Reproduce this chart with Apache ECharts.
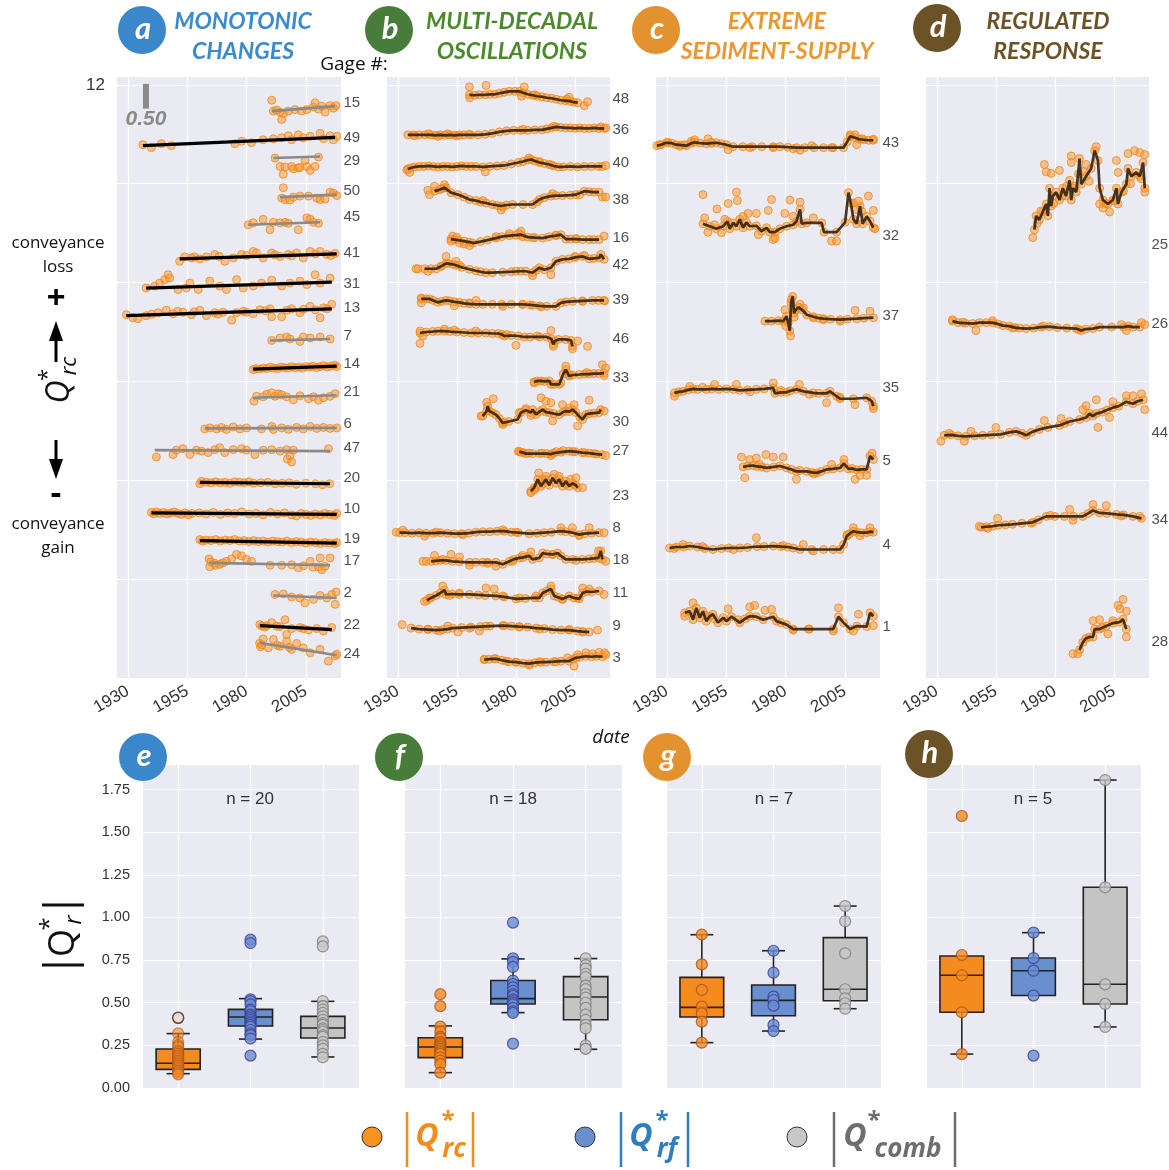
<!DOCTYPE html>
<html><head><meta charset="utf-8">
<script src="https://cdn.jsdelivr.net/npm/echarts@6/dist/echarts.min.js"></script>
<style>html,body{margin:0;padding:0;background:#fff}#c{width:1169px;height:1170px}</style>
</head><body><div id="c"></div><script>
// ---------- tick labels ----------
const yearTicks = [1930, 1955, 1980, 2005];
const X0 = 1925.4, X1 = 2019.8;

// ---------- panel a : monotonic changes ----------
const gagesA = ['15','49','29','50','45','41','31','13','7','14','21','6','47','20','10','19','17','2','22','24'];
const labelA = [11.64,10.93,10.47,9.86,9.34,8.61,7.98,7.48,6.93,6.36,5.78,5.15,4.66,4.04,3.43,2.82,2.38,1.73,1.08,0.48];
// [startYear, startValue, endYear, endValue, significant]
const trendA = [
 [1990.6,11.47,2017.3,11.57,0],[1936.3,10.77,2017.3,10.94,1],[1991.3,10.52,2011.0,10.55,0],[1994.1,9.73,2018.0,9.78,0],
 [1980.7,9.17,2011.0,9.22,0],[1951.8,8.48,2018.0,8.58,1],[1937.7,7.89,2015.9,8.01,1],[1929.3,7.33,2015.9,7.47,1],
 [1989.9,6.83,2015.2,6.86,0],[1982.8,6.25,2018.0,6.31,1],[1982.8,5.67,2018.0,5.72,0],[1962.4,5.05,2018.0,5.06,0],
 [1941.3,4.61,2015.2,4.59,0],[1960.3,3.96,2015.2,3.93,1],[1939.9,3.34,2018.0,3.31,1],[1960.3,2.78,2018.0,2.73,1],
 [1964.2,2.33,2015.2,2.28,0],[1991.3,1.67,2018.0,1.62,0],[1985.6,1.06,2015.9,0.98,1],[1985.6,0.71,2018.0,0.46,0]];
const pA15 = [[1990.6,11.69],[1991.3,11.47],[1992.7,11.49],[1994.1,11.45],[1994.8,11.30],[1995.5,11.42],[1997.6,11.47],[2000.4,11.50],[2003.2,11.47],[2005.4,11.50],[2008.2,11.55],[2008.9,11.64],[2010.3,11.51],[2011.7,11.57],[2013.1,11.45],[2015.2,11.58],[2016.6,11.53],[2017.7,11.58]];
const pA49 = [[1936.3,10.79],[1939.9,10.73],[1944.1,10.81],[1948.3,10.77],[1975.1,10.81],[1977.9,10.86],[1982.1,10.83],[1987.0,10.89],[1991.3,10.91],[1994.8,10.93],[1997.6,10.97],[1999.0,10.89],[2001.8,10.99],[2003.9,10.93],[2006.8,10.96],[2011.0,11.02],[2012.4,10.91],[2015.2,10.97],[2016.6,10.89],[2018.0,10.96]];
const pA29 = [[1992.0,10.52],[1994.1,10.35],[1995.5,10.19],[1996.2,10.34],[1999.0,10.35],[1999.7,10.30],[2001.8,10.32],[2002.5,10.33],[2004.6,10.47],[2005.4,10.35],[2006.8,10.27],[2008.9,10.35],[2010.3,10.54]];
const pA50 = [[1994.8,9.71],[1995.5,9.92],[1996.2,9.68],[1998.3,9.67],[1999.7,9.73],[2002.5,9.75],[2006.1,9.75],[2009.6,9.71],[2011.0,9.68],[2013.1,9.69],[2015.2,9.83],[2016.6,9.81],[2018.0,9.76]];
const pA45 = [[1980.7,9.17],[1982.8,9.21],[1987.0,9.28],[1989.9,9.07],[1991.3,9.22],[1994.1,9.21],[1996.2,9.22],[1997.6,9.20],[2001.8,9.07],[2005.4,9.31],[2006.8,9.28],[2008.2,9.22],[2010.3,9.20]];
const pA41 = [[1951.8,8.43],[1953.9,8.52],[1956.8,8.50],[1958.0,8.52],[1960.3,8.48],[1963.1,8.52],[1966.6,8.57],[1968.5,8.53],[1970.8,8.43],[1974.4,8.50],[1977.9,8.57],[1980.0,8.55],[1982.8,8.63],[1984.2,8.60],[1987.0,8.50],[1990.6,8.60],[1992.0,8.56],[1994.1,8.53],[1997.6,8.57],[1999.0,8.54],[2001.1,8.60],[2003.9,8.50],[2006.8,8.63],[2009.0,8.58],[2011.0,8.63],[2013.8,8.57],[2015.5,8.55],[2017.3,8.59]];
const pA31 = [[1937.7,7.89],[1941.3,7.93],[1943.4,7.99],[1945.5,8.06],[1946.9,8.16],[1947.6,8.09],[1951.1,7.86],[1954.6,7.89],[1956.1,7.99],[1959.6,7.86],[1964.5,8.03],[1968.7,7.93],[1971.5,7.86],[1975.8,8.06],[1978.6,7.89],[1982.8,7.93],[1986.3,7.99],[1990.6,8.05],[1994.8,7.93],[1998.3,7.99],[2002.5,8.03],[2005.4,7.96],[2008.9,8.16],[2011.0,7.99],[2015.2,8.09]];
const pA13 = [[1929.3,7.35],[1932.1,7.29],[1934.2,7.27],[1937.7,7.33],[1940.0,7.36],[1942.7,7.39],[1946.2,7.44],[1949.0,7.37],[1951.0,7.42],[1953.2,7.40],[1956.8,7.35],[1958.0,7.41],[1960.3,7.44],[1963.1,7.33],[1966.6,7.39],[1968.0,7.36],[1970.1,7.40],[1973.7,7.24],[1975.8,7.39],[1978.6,7.42],[1980.0,7.40],[1982.8,7.37],[1985.6,7.45],[1988.0,7.43],[1989.9,7.47],[1990.6,7.31],[1994.8,7.31],[1997.0,7.44],[1999.0,7.47],[2002.5,7.39],[2004.0,7.46],[2006.8,7.52],[2009.0,7.45],[2011.0,7.29],[2012.4,7.49],[2014.0,7.47],[2015.9,7.56]];
const pA7 = [[1990.6,6.83],[1994.1,6.88],[1996.9,6.90],[1998.3,6.86],[2002.5,6.81],[2003.9,6.90],[2006.8,6.88],[2011.0,6.90],[2015.2,6.86]];
const pA14 = [[1982.8,6.24],[1984.0,6.26],[1985.5,6.25],[1987.0,6.27],[1988.5,6.26],[1990.0,6.29],[1991.5,6.27],[1993.0,6.26],[1994.5,6.29],[1996.0,6.28],[1997.5,6.27],[1999.0,6.30],[2000.5,6.28],[2002.0,6.29],[2003.5,6.27],[2005.0,6.30],[2006.5,6.29],[2008.0,6.31],[2009.5,6.28],[2011.0,6.30],[2012.5,6.32],[2014.0,6.29],[2015.5,6.31],[2017.0,6.33],[2018.0,6.30]];
const pA21 = [[1983.1,5.60],[1984.2,5.70],[1987.0,5.69],[1988.5,5.74],[1990.6,5.77],[1992.0,5.70],[1993.4,5.75],[1994.8,5.73],[1996.9,5.69],[1999.7,5.63],[2002.5,5.71],[2006.1,5.65],[2008.2,5.69],[2010.3,5.62],[2012.4,5.67],[2015.2,5.70],[2017.3,5.75]];
const pA6 = [[1962.4,5.04],[1964.5,5.06],[1967.3,5.04],[1969.4,5.07],[1971.5,5.03],[1974.4,5.08],[1977.2,5.04],[1980.0,5.06],[1986.3,5.04],[1990.6,5.09],[1991.3,5.03],[1994.8,5.06],[1997.6,5.03],[2001.1,5.07],[2003.9,5.04],[2006.8,5.09],[2009.6,5.05],[2012.4,5.07],[2015.2,5.05],[2018.0,5.06]];
const pA47 = [[1942.0,4.47],[1949.0,4.52],[1950.4,4.61],[1953.2,4.64],[1956.1,4.52],[1958.9,4.61],[1961.0,4.59],[1963.8,4.56],[1966.6,4.62],[1968.7,4.66],[1970.8,4.56],[1974.4,4.62],[1977.9,4.64],[1980.0,4.61],[1983.5,4.52],[1987.0,4.61],[1990.6,4.62],[1994.1,4.59],[1996.9,4.62],[1997.2,4.43],[1998.3,4.50],[1999.0,4.37],[1999.7,4.61],[2014.5,4.64]];
const pA20 = [[1960.3,3.93],[1961.0,3.98],[1963.0,3.96],[1965.0,3.95],[1967.0,3.97],[1969.0,3.95],[1971.0,3.96],[1973.0,3.94],[1975.0,3.97],[1977.0,3.96],[1979.0,3.95],[1981.0,3.97],[1983.0,3.94],[1986.0,3.95],[1989.0,3.96],[1992.0,3.93],[1995.0,3.94],[1998.0,3.95],[2001.0,3.92],[2005.0,3.94],[2009.0,3.93],[2012.0,3.91],[2015.0,3.93]];
const pA10 = [[1939.9,3.35],[1941.0,3.32],[1942.0,3.36],[1943.5,3.33],[1945.0,3.35],[1946.5,3.32],[1948.0,3.34],[1949.5,3.36],[1951.0,3.33],[1952.5,3.31],[1954.0,3.34],[1955.5,3.30],[1957.0,3.33],[1960.0,3.34],[1963.0,3.32],[1966.0,3.35],[1969.0,3.31],[1972.0,3.34],[1975.0,3.33],[1978.0,3.36],[1981.0,3.32],[1984.0,3.33],[1987.0,3.30],[1990.0,3.35],[1993.0,3.32],[1996.0,3.34],[1999.0,3.30],[2001.0,3.28],[2003.0,3.33],[2005.0,3.31],[2007.0,3.29],[2009.0,3.32],[2011.0,3.30],[2013.0,3.33],[2015.0,3.31],[2017.0,3.29],[2018.0,3.33]];
const pA19 = [[1960.3,2.80],[1961.5,2.77],[1963.0,2.79],[1965.0,2.78],[1967.0,2.80],[1969.0,2.77],[1971.0,2.79],[1973.0,2.78],[1975.0,2.80],[1977.0,2.77],[1979.0,2.78],[1981.0,2.76],[1983.0,2.78],[1985.0,2.76],[1987.0,2.77],[1989.0,2.75],[1991.0,2.77],[1993.0,2.76],[1995.0,2.75],[1997.0,2.77],[1999.0,2.74],[2001.0,2.76],[2003.0,2.75],[2005.0,2.73],[2007.0,2.75],[2009.0,2.74],[2011.0,2.72],[2013.0,2.74],[2015.0,2.73],[2017.0,2.72],[2018.0,2.74]];
const pA17 = [[1964.2,2.41],[1964.5,2.25],[1965.0,2.35],[1966.6,2.32],[1967.0,2.28],[1968.7,2.30],[1970.0,2.33],[1971.5,2.36],[1973.7,2.41],[1975.8,2.50],[1977.9,2.47],[1980.0,2.40],[1982.1,2.36],[1989.9,2.28],[1994.8,2.28],[1999.0,2.29],[2001.8,2.23],[2004.0,2.27],[2006.8,2.36],[2008.0,2.24],[2010.3,2.25],[2011.0,2.43],[2011.7,2.19],[2013.0,2.26],[2015.2,2.43]];
const pA2 = [[1992.0,1.69],[1995.5,1.70],[1999.0,1.64],[2002.5,1.62],[2004.6,1.52],[2008.2,1.59],[2011.0,1.67],[2013.8,1.62],[2015.9,1.69],[2017.3,1.49],[2017.7,1.74]];
const pA22 = [[1985.6,1.08],[1986.5,1.05],[1987.7,1.03],[1988.5,1.06],[1990.6,1.12],[1992.7,1.05],[1994.0,1.04],[1996.2,1.18],[1999.0,1.00],[2002.5,1.02],[2004.0,1.00],[2006.1,0.97],[2009.6,1.00],[2012.4,0.95],[2015.9,1.02]];
const pA24 = [[1985.5,0.70],[1985.9,0.63],[1986.5,0.67],[1987.0,0.79],[1989.2,0.61],[1991.3,0.78],[1993.0,0.66],[1994.1,0.64],[1996.9,0.88],[1996.9,0.74],[1998.0,0.62],[1999.0,0.58],[2001.1,0.70],[2003.9,0.61],[2006.8,0.51],[2011.0,0.58],[2014.5,0.34],[2017.3,0.45],[2018.0,0.48]];
const ptsA = [pA15,pA49,pA29,pA50,pA45,pA41,pA31,pA13,pA7,pA14,pA21,pA6,pA47,pA20,pA10,pA19,pA17,pA2,pA22,pA24];

// ---------- panel b : multi-decadal oscillations ----------
const gagesB = ['48','36','40','38','16','42','39','46','33','30','27','23','8','18','11','9','3'];
const labelB = [11.72,11.10,10.43,9.68,8.91,8.36,7.66,6.87,6.07,5.19,4.60,3.69,3.04,2.40,1.73,1.06,0.41];
const b48L = [[1960.3,11.80],[1962.5,11.79],[1964.5,11.80],[1967,11.80],[1969,11.81],[1971,11.81],[1973,11.83],[1975,11.85],[1977.2,11.87],[1979.5,11.87],[1981.5,11.87],[1983,11.84],[1985,11.81],[1987,11.79],[1989,11.77],[1991,11.76],[1993,11.74],[1995,11.73],[1997,11.71],[1999,11.69],[2001,11.68],[2003,11.67],[2004.5,11.65],[2006.1,11.64]];
const b48X = [[1960.3,11.96],[1960.4,11.74],[1967.3,11.99],[1983.5,11.96],[1982.3,11.77],[1988,11.80],[2002.5,11.75],[2001.5,11.71],[2008.9,11.58],[2010.3,11.66]];
const b36L = [[1934.2,10.99],[1936.5,10.99],[1939,10.99],[1941.5,10.99],[1944,10.99],[1946,10.98],[1948,10.99],[1950,10.98],[1952,10.99],[1954,10.98],[1956,10.99],[1958,10.99],[1961,10.99],[1964,10.99],[1967,11.00],[1970,11.02],[1973,11.05],[1976,11.07],[1979,11.08],[1982,11.08],[1985,11.08],[1988,11.09],[1991,11.09],[1993,11.11],[1995,11.13],[1997,11.15],[1999,11.14],[2001,11.13],[2003,11.13],[2005,11.12],[2007,11.13],[2009,11.12],[2011,11.12],[2013,11.13],[2015,11.12],[2017.3,11.12]];
const b36X = [[1937,10.97],[1943,11.01],[1947,10.96],[1951,11.01],[1955,10.97],[1960,11.00],[1996,11.16],[2016,11.15],[2018,11.13],[1983,11.10]];
const b40L = [[1934.2,10.30],[1935.5,10.32],[1937,10.34],[1939,10.35],[1941,10.35],[1943,10.36],[1945,10.35],[1947,10.34],[1949,10.35],[1951,10.35],[1953,10.34],[1955,10.35],[1957,10.36],[1959,10.35],[1961,10.35],[1963,10.35],[1966,10.34],[1969,10.35],[1972,10.36],[1975,10.37],[1978,10.40],[1981,10.43],[1983,10.45],[1985,10.48],[1986.5,10.49],[1988,10.46],[1990,10.43],[1992,10.41],[1994,10.39],[1996,10.36],[1998,10.34],[2000,10.34],[2003,10.35],[2006,10.34],[2009,10.35],[2012,10.35],[2015,10.35],[2016.5,10.35]];
const b40X = [[1933.8,10.28],[1935,10.23],[1967,10.24],[1985.5,10.52],[1990,10.45],[1995,10.38],[2018,10.37]];
const b38L = [[1945.5,9.85],[1947.6,9.88],[1949.7,9.92],[1950.4,9.92],[1952.5,9.82],[1955.4,9.78],[1958,9.73],[1960.3,9.68],[1963,9.66],[1965,9.63],[1967.3,9.61],[1970,9.58],[1973.7,9.55],[1976,9.57],[1978.6,9.58],[1983,9.58],[1987,9.58],[1989.9,9.68],[1992,9.72],[1994.8,9.75],[1997,9.76],[1999.7,9.76],[2003,9.77],[2005.4,9.78],[2008.9,9.85],[2011,9.84],[2013,9.83],[2015.2,9.83]];
const b38X = [[1942.7,9.87],[1943.4,9.78],[1945.5,9.95],[1949.7,9.98],[1948.5,9.90],[1966,9.66],[1972,9.56],[1973.7,9.47],[1974.4,9.53],[1989,9.63],[1995.5,9.80],[2007,9.78],[2016.6,9.73],[2018,9.73]];
const b16L = [[1952.5,8.88],[1954,8.87],[1955.5,8.86],[1958,8.84],[1960.3,8.82],[1961.7,8.80],[1965,8.83],[1968,8.86],[1971.5,8.90],[1974,8.93],[1977.2,8.95],[1980,8.96],[1982.1,8.97],[1982.8,8.93],[1985,8.92],[1988,8.91],[1991.3,8.90],[1994,8.93],[1996.9,8.95],[1999,8.97],[2001.1,8.88],[2003,8.88],[2005.4,8.88],[2008.2,8.87],[2011,8.87],[2013,8.87],[2015.2,8.87]];
const b16X = [[1952.5,8.84],[1953.2,8.94],[1954.9,8.92],[1956.1,8.80],[1960.3,8.75],[1958,8.78],[1971.5,8.93],[1977.2,8.99],[1982.1,9.04],[1981,9.00],[1987,8.91],[1996.9,8.96],[2005.4,8.89],[2017.3,8.94]];
const b42L = [[1941.3,8.28],[1944,8.28],[1946.2,8.28],[1948.3,8.33],[1950.4,8.39],[1951.1,8.39],[1953.2,8.37],[1954.6,8.35],[1957,8.31],[1960.3,8.27],[1963,8.24],[1965,8.22],[1967.3,8.20],[1970,8.20],[1974.4,8.21],[1978,8.22],[1982,8.23],[1984.2,8.23],[1987,8.20],[1988.5,8.25],[1989.9,8.30],[1992,8.26],[1994.8,8.30],[1996.9,8.43],[1999.7,8.47],[2002.5,8.48],[2005,8.51],[2008.2,8.53],[2011,8.48],[2013,8.49],[2015.2,8.50],[2015.9,8.57],[2017.3,8.47]];
const b42X = [[1937.7,8.28],[1938.5,8.28],[1942.7,8.23],[1948.3,8.33],[1950.4,8.53],[1954.6,8.43],[1956,8.35],[1980,8.23],[1987,8.14],[1994.8,8.16],[2005,8.53],[2009,8.55]];
const b39L = [[1939.9,7.67],[1942,7.67],[1943.4,7.67],[1945,7.64],[1946.9,7.60],[1948.5,7.62],[1950.4,7.64],[1952,7.63],[1954,7.61],[1956,7.60],[1958,7.58],[1960.3,7.57],[1963.1,7.56],[1966,7.56],[1970,7.56],[1974,7.56],[1978,7.56],[1982.8,7.56],[1986,7.55],[1990,7.53],[1993,7.52],[1996.9,7.52],[1999,7.59],[2001.1,7.61],[2004,7.62],[2008.2,7.63],[2012.4,7.64],[2015,7.64],[2017.3,7.64]];
const b39X = [[1939.9,7.69],[1939.9,7.59],[1953.9,7.53],[1960.3,7.59],[1963.1,7.64],[1974.4,7.52],[1982.8,7.56],[1987,7.54],[1990.6,7.51],[2008.2,7.62],[2017.5,7.63]];
const b46L = [[1939.4,6.98],[1942,7.00],[1944.8,7.01],[1947,7.02],[1949.7,7.02],[1952,7.01],[1955,7.00],[1958,6.99],[1961,6.98],[1964,6.98],[1967.3,6.98],[1970,6.97],[1972.5,6.97],[1974,6.95],[1975,6.92],[1978,6.93],[1981,6.92],[1983.5,6.90],[1986,6.90],[1990,6.90],[1993,6.90],[1995,6.86],[1995.8,6.75],[1996.5,6.82],[1998,6.85],[2001,6.85],[2003.3,6.83],[2003.9,6.71]];
const b46X = [[1939.4,7.02],[1939.4,6.77],[1940.6,6.92],[1949.7,7.06],[1953.9,7.04],[1963,7.02],[1976,6.95],[1980,6.73],[1989,6.92],[1994.8,7.03],[1995.8,6.71],[2003.9,6.66],[2006.1,6.82],[2010.3,6.71]];
const b33L = [[1987.7,5.99],[1989,6.01],[1990.6,6.01],[1992,6.00],[1994.1,6.01],[1994.8,5.94],[1996,5.94],[1998.3,5.94],[2000,6.15],[2001.1,6.24],[2002.5,6.11],[2004,6.13],[2006.8,6.14],[2009,6.15],[2011,6.15],[2013,6.16],[2015,6.16],[2017.3,6.17]];
const b33X = [[1987.7,5.97],[1999,5.97],[2001.1,6.31],[2002.5,6.14],[2016.6,6.34],[2018,6.27],[2017.3,6.12],[2010,6.18]];
const b30L = [[1965.9,5.30],[1967.6,5.40],[1968,5.50],[1968.7,5.40],[1970,5.37],[1971.5,5.33],[1973,5.25],[1974.4,5.16],[1977,5.19],[1980.7,5.23],[1982.1,5.37],[1984.2,5.42],[1986.3,5.37],[1987,5.43],[1988.5,5.33],[1990,5.39],[1991.3,5.43],[1992.7,5.38],[1994.1,5.37],[1996,5.35],[1998.3,5.33],[2000,5.38],[2001.1,5.40],[2002.5,5.39],[2003.9,5.43],[2005.4,5.37],[2007,5.28],[2008.2,5.23],[2009.6,5.33],[2011,5.35],[2013,5.36],[2015.2,5.37],[2015.9,5.43]];
const b30X = [[1965.2,5.30],[1967.6,5.58],[1970.4,5.65],[1974.4,5.13],[1975.1,5.18],[1981.4,5.37],[1984.2,5.45],[1986.3,5.31],[1990.6,5.67],[1992.7,5.60],[1994.8,5.57],[1995.5,5.20],[1999.7,5.53],[2002.5,5.46],[2004.6,5.53],[2006.1,5.10],[2011,5.62],[2017.3,5.40]];
const b27L = [[1981.4,4.58],[1983,4.56],[1984.2,4.54],[1987,4.54],[1990,4.54],[1993,4.54],[1994.8,4.53],[1996,4.55],[1999,4.57],[2002.5,4.59],[2005,4.58],[2008,4.56],[2011,4.55],[2014,4.53],[2016.5,4.52]];
const b27X = [[1981,4.59],[1982,4.57],[1985.5,4.55],[1991,4.55],[1994.8,4.50],[1997,4.58],[2000,4.60],[2004,4.58],[2009,4.56],[2013,4.54],[2018,4.50]];
const b23L = [[1986.3,3.78],[1987.7,3.85],[1988.5,3.85],[1989.2,4.02],[1990.6,3.88],[1991.3,3.93],[1992.7,4.02],[1994.1,3.90],[1995.5,4.05],[1996.9,3.94],[1998.3,4.02],[1999.7,3.88],[2001.1,3.98],[2002.5,3.88],[2003.9,3.94],[2005.4,3.90],[2006.1,3.85]];
const b23X = [[1986.3,3.75],[1987.7,3.81],[1989.6,4.15],[1991.3,4.02],[1992.7,4.08],[1996.2,4.12],[1998.3,4.08],[1999,3.95],[2001.1,3.92],[2003.2,4.02],[2005.4,4.05],[2008.2,3.85]];
const b8L = [[1930.7,2.94],[1933,2.94],[1936,2.93],[1939,2.94],[1942,2.93],[1945,2.93],[1948,2.94],[1951,2.93],[1954,2.92],[1957,2.92],[1960,2.93],[1963,2.95],[1966,2.96],[1969,2.96],[1972,2.97],[1975,2.97],[1978,2.95],[1981,2.94],[1985.6,2.92],[1989,2.93],[1992,2.94],[1995,2.95],[1999,2.97],[2001,2.96],[2003.9,2.94],[2006.8,2.90],[2009,2.92],[2012,2.93],[2015.2,2.94]];
const b8X = [[1929.3,2.95],[1932.1,2.99],[1941.3,2.87],[1946.2,2.95],[1957.5,2.90],[1974.4,3.00],[1980,2.95],[1999,3.04],[2003.9,3.04],[2006.8,2.88],[2011,3.04],[2017.3,2.94]];
const b18L = [[1944.1,2.36],[1946,2.37],[1948,2.38],[1950.4,2.38],[1953,2.36],[1956,2.35],[1960.3,2.34],[1963,2.34],[1966,2.34],[1968,2.34],[1971.5,2.34],[1974.4,2.30],[1977.2,2.36],[1979,2.40],[1981.4,2.43],[1983,2.44],[1985.6,2.47],[1987,2.40],[1989.9,2.43],[1991.3,2.53],[1993,2.51],[1995.5,2.50],[1997.6,2.53],[1999,2.47],[2001.1,2.40],[2004,2.40],[2008.2,2.40],[2011,2.41],[2013,2.42],[2014.9,2.43],[2015.9,2.57],[2016.6,2.40]];
const b18X = [[1940.6,2.36],[1942,2.36],[1945.5,2.48],[1949,2.40],[1952.5,2.50],[1956.1,2.45],[1960.3,2.28],[1968,2.32],[1971.5,2.26],[1978.6,2.36],[1982.8,2.48],[1986.3,2.55],[1995.5,2.50],[2005.4,2.38],[2014.9,2.57],[2018,2.36]];
const b11L = [[1942.3,1.57],[1944,1.62],[1946.2,1.67],[1948,1.72],[1949.7,1.78],[1950.4,1.69],[1953,1.70],[1956,1.69],[1960.3,1.69],[1964,1.68],[1967,1.67],[1971.5,1.66],[1975,1.64],[1980,1.60],[1984,1.61],[1988,1.62],[1989.9,1.62],[1991.3,1.72],[1993,1.76],[1994.8,1.80],[1996.2,1.66],[1998,1.63],[1999.7,1.60],[2002.5,1.66],[2004.5,1.62],[2006.8,1.60],[2008.2,1.72],[2010,1.75],[2012,1.74],[2015.2,1.76]];
const b11X = [[1941.3,1.55],[1943.4,1.62],[1949,1.86],[1951.8,1.67],[1956.1,1.72],[1967.3,1.82],[1970.8,1.80],[1974.4,1.66],[1981.4,1.62],[1988.5,1.66],[1994.8,1.86],[1999.7,1.59],[2006.1,1.62],[2008.2,1.82],[2011,1.80],[2017.3,1.69]];
const b9L = [[1935.6,1.01],[1939,0.99],[1942.7,0.98],[1946.2,0.97],[1949,0.98],[1951,0.99],[1953.2,1.01],[1957,1.02],[1961,1.03],[1965,1.04],[1969,1.05],[1974.4,1.06],[1978,1.05],[1981.4,1.04],[1985,1.03],[1988.5,1.01],[1992,1.00],[1995.5,0.98],[1999,0.97],[2002.5,0.97],[2006,0.95],[2008.2,0.94],[2011,0.93]];
const b9X = [[1931.8,1.08],[1942.7,0.99],[1947.6,0.95],[1951.1,1.05],[1955.4,0.93],[1960.3,1.01],[1964.5,0.95],[1967.3,1.05],[1975,1.06],[1981.4,1.03],[1990,0.99],[2002.5,0.98],[2008.2,0.93],[2014.5,0.97]];
const b3L = [[1966.6,0.37],[1968.5,0.38],[1971.5,0.39],[1974,0.36],[1977,0.33],[1980,0.32],[1983,0.30],[1985.6,0.29],[1988,0.31],[1990.5,0.32],[1992.7,0.32],[1996,0.33],[1999,0.34],[2002.5,0.34],[2004,0.38],[2005.4,0.41],[2007,0.42],[2009.6,0.44],[2012,0.43],[2014,0.44],[2016.6,0.43]];
const b3X = [[1966.6,0.38],[1970.8,0.39],[1975.8,0.34],[1980,0.32],[1985.6,0.26],[1990,0.33],[1996.9,0.33],[2001.8,0.41],[2004.6,0.24],[2006.1,0.47],[2009.6,0.51],[2012.4,0.49],[2015.2,0.52],[2018,0.47],[2017.5,0.51]];
const linesB = [b48L,b36L,b40L,b38L,b16L,b42L,b39L,b46L,b33L,b30L,b27L,b23L,b8L,b18L,b11L,b9L,b3L];
const extraB = [b48X,b36X,b40X,b38X,b16X,b42X,b39X,b46X,b33X,b30X,b27X,b23X,b8X,b18X,b11X,b9X,b3X];

// ---------- panel c : extreme sediment supply ----------
const gagesC = ['43','32','37','35','5','4','1'];
const labelC = [10.83,8.95,7.33,5.88,4.40,2.70,1.04];
const c43L = [[1925.8,10.77],[1927.5,10.79],[1929.7,10.83],[1932,10.82],[1933.9,10.79],[1936,10.78],[1938.2,10.77],[1940.3,10.82],[1941.7,10.84],[1944,10.82],[1946.6,10.81],[1948.7,10.82],[1950.8,10.83],[1953,10.81],[1955.1,10.79],[1957.9,10.75],[1962,10.75],[1966,10.75],[1970,10.75],[1974.8,10.75],[1977.6,10.75],[1981,10.74],[1984.6,10.73],[1988,10.73],[1992,10.73],[1996,10.73],[2000,10.73],[2004.4,10.73],[2006,10.85],[2007.2,10.96],[2009.3,10.93],[2011,10.90],[2013,10.89],[2015,10.88],[2017,10.88]];
const c43X = [[1926.9,10.79],[1930.4,10.84],[1935.4,10.76],[1937.5,10.79],[1940.3,10.86],[1941.7,10.89],[1947.3,10.91],[1948.7,10.84],[1955.8,10.69],[1964.9,10.73],[1974.8,10.73],[1983.2,10.71],[1986.1,10.68],[1991,10.77],[1999.4,10.73],[2007.2,10.99],[2009.3,10.99],[2010,10.79],[2012.1,10.91],[2017,10.90]];
const c32L = [[1945.2,9.19],[1948,9.14],[1950.8,9.09],[1953.7,9.14],[1955.5,9.24],[1956.5,9.09],[1957.9,9.21],[1959.3,9.14],[1960.7,9.28],[1962.1,9.11],[1963.5,9.22],[1964.9,9.14],[1967.7,9.15],[1969.9,9.04],[1972,9.11],[1973.4,9.02],[1975.5,9.02],[1977.6,9.09],[1980.4,9.14],[1983.2,9.17],[1984.6,9.24],[1986.1,9.48],[1986.8,9.19],[1988.9,9.21],[1995.2,9.21],[1996.2,9.02],[2001.5,9.02],[2005.1,9.22],[2006.5,9.82],[2007.5,9.61],[2008.6,9.28],[2010,9.19],[2011.4,9.55],[2012.5,9.19],[2014.2,9.34],[2015.6,9.24],[2017,9.11]];
const c32X = [[1945.2,9.78],[1945.9,9.31],[1947.3,9.02],[1950.1,9.17],[1951.1,9.49],[1953,9.01],[1954.4,9.28],[1955.8,9.60],[1959.3,9.83],[1959.7,9.66],[1962.1,9.34],[1964.2,9.40],[1967.7,9.40],[1968.5,8.97],[1972.7,9.46],[1974.1,9.68],[1974.8,8.87],[1975.5,8.90],[1979.7,9.40],[1981.8,9.67],[1983.2,9.34],[1986.1,9.63],[1991.7,9.31],[1999.4,8.84],[2001.5,8.84],[2008.6,9.61],[2009.7,9.48],[2010.7,9.65],[2012.1,9.44],[2014.9,9.75],[2017,9.46],[2017.7,9.09]];
const c37L = [[1971.3,7.22],[1974,7.22],[1977,7.23],[1979,7.22],[1980.4,7.32],[1981.1,7.19],[1981.8,7.02],[1982.3,7.59],[1983,7.72],[1983.6,7.38],[1984.3,7.45],[1985.5,7.50],[1987,7.45],[1988.9,7.35],[1991.7,7.31],[1994,7.28],[1996,7.27],[1999,7.26],[2003,7.25],[2006,7.26],[2010,7.27],[2013,7.28],[2017,7.29]];
const c37X = [[1979.7,7.45],[1980.1,7.12],[1982.1,6.92],[1982.5,7.66],[1986.1,7.56],[1987.5,7.49],[2009.3,7.44],[2015.6,7.42],[1991.7,7.29],[1995.9,7.25],[2003,7.22],[1983.6,7.30]];
const c35L = [[1933.2,5.77],[1935,5.79],[1936.8,5.80],[1939,5.83],[1941,5.85],[1943,5.84],[1946.6,5.84],[1949,5.85],[1952,5.84],[1955.1,5.85],[1958,5.84],[1960.7,5.82],[1964,5.83],[1967.7,5.84],[1971,5.85],[1974.8,5.87],[1975.5,5.76],[1978,5.78],[1980.4,5.78],[1982,5.81],[1984.6,5.84],[1987.5,5.80],[1991.7,5.77],[1994,5.76],[1997.3,5.76],[1998.7,5.80],[2001.5,5.70],[2003,5.65],[2008.6,5.65],[2014.2,5.67],[2016.3,5.60],[2017,5.50]];
const c35X = [[1933.2,5.70],[1950.1,5.94],[1974.8,5.97],[1985.8,5.94],[1997.3,5.57],[2009.3,5.53],[2017,5.45],[1939.6,5.90],[1959.3,5.94],[1945,5.88],[1965,5.79],[1978,5.82],[1990,5.74],[2003,5.68]];
const c5L = [[1962.1,4.27],[1964,4.29],[1966.3,4.30],[1968,4.28],[1970,4.27],[1972,4.25],[1975,4.27],[1977.6,4.29],[1980.4,4.25],[1982.5,4.22],[1984.6,4.18],[1988.9,4.18],[1991,4.16],[1993.1,4.15],[1995,4.18],[1997.3,4.22],[2000,4.23],[2003,4.25],[2004.6,4.34],[2006.5,4.23],[2008,4.24],[2010,4.21],[2012,4.22],[2014.2,4.22],[2015.6,4.49],[2017,4.42]];
const c5X = [[1961.4,4.47],[1962.8,4.05],[1964.9,4.42],[1967.7,4.45],[1971.7,4.52],[1974.8,4.47],[1979,4.47],[1984.6,4.02],[1999.4,4.32],[2004.6,4.42],[2009.3,4.02],[2011.4,4.10],[2014.2,4.10],[1969,4.32],[1986,4.20],[1992,4.13],[2016.5,4.55]];
const c4L = [[1931.1,2.63],[1934,2.65],[1937,2.65],[1939.6,2.67],[1943,2.65],[1946,2.62],[1949.4,2.60],[1953,2.62],[1956,2.63],[1960.7,2.63],[1964,2.64],[1968,2.66],[1971,2.66],[1974.8,2.67],[1978,2.66],[1981,2.65],[1983.2,2.63],[1986.1,2.60],[1991,2.60],[1996,2.60],[2000,2.60],[2003,2.60],[2004.5,2.70],[2005.8,2.87],[2007,2.92],[2008.6,2.97],[2010,2.95],[2012,2.94],[2014.2,2.94],[2015.5,2.96],[2017,2.95]];
const c4X = [[1967.7,2.84],[1936.8,2.70],[1987.5,2.70],[1991.7,2.57],[2008.6,3.04],[2015.6,3.04],[2011.4,2.88],[1933,2.62],[1945,2.66],[1958,2.60],[1979,2.68],[2006,2.90]];
const c1L = [[1937.5,1.32],[1939.6,1.35],[1941,1.18],[1942.4,1.42],[1943.8,1.22],[1945.2,1.35],[1946.6,1.15],[1948,1.25],[1949.4,1.29],[1951.5,1.12],[1953.7,1.22],[1955.1,1.15],[1957.2,1.24],[1960.7,1.12],[1963,1.20],[1964.9,1.25],[1967.7,1.24],[1970.6,1.18],[1974.8,1.24],[1976.2,1.15],[1978,1.12],[1980.4,1.08],[1983.2,0.99],[1990,0.99],[2000.1,0.99],[2002.3,1.24],[2004.4,1.12],[2007.2,0.99],[2010,1.05],[2014.2,1.04],[2015.6,1.32],[2017,1.25]];
const c1X = [[1941,1.52],[1937.5,1.25],[1942.4,1.29],[1955.8,1.40],[1964.9,1.44],[1967,1.47],[1971.3,1.37],[1974.1,1.39],[2000.1,0.95],[2002.3,1.42],[2008.6,0.95],[2010.7,1.29],[2017,1.06],[1989.6,0.99],[1983.2,0.97],[1946,1.27],[1950,1.20],[1960,1.18]];
const linesC = [c43L,c32L,c37L,c35L,c5L,c4L,c1L];
const extraC = [c43X,c32X,c37X,c35X,c5X,c4X,c1X];

// ---------- panel d : regulated response ----------
const gagesD = ['25','26','44','34','28'];
const labelD = [8.77,7.16,4.95,3.19,0.74];
const d25L = [[1971.3,9.07],[1972,9.35],[1973.4,9.27],[1974.8,9.43],[1976.3,9.59],[1977,9.35],[1977.7,9.91],[1978.4,9.55],[1979.1,9.75],[1980.5,9.83],[1981.9,9.67],[1983.3,9.91],[1984.7,9.75],[1986.2,10.07],[1986.9,9.67],[1987.6,9.91],[1989,9.83],[1990.4,10.51],[1991.1,9.99],[1993.2,10.15],[1995.3,10.31],[1996.8,10.67],[1998.2,10.47],[1998.9,9.91],[2000.3,9.67],[2002.4,9.59],[2004.5,9.67],[2006,9.91],[2006.7,9.59],[2008.1,9.83],[2010.2,9.99],[2010.9,10.31],[2012.3,10.15],[2014.4,10.23],[2015.9,10.15],[2017.3,10.43],[2018,9.91]];
const d25X = [[1970.6,8.91],[1972.5,9.20],[1974,9.45],[1975.5,10.39],[1976.3,10.24],[1978.4,10.21],[1979.5,9.60],[1981.9,10.27],[1983,9.75],[1985,9.95],[1986.9,10.56],[1986.9,10.43],[1988.5,9.95],[1990,10.2],[1992,10.25],[1993.2,10.39],[1994.5,10.05],[1997.4,10.75],[1998.9,9.59],[2000.3,9.51],[2001.5,9.60],[2003.1,9.43],[2005,9.65],[2006,10.47],[2006.7,10.23],[2009,9.85],[2010.9,10.61],[2012,10.0],[2013.7,10.67],[2015.9,10.63],[2016.5,10.1],[2018,9.83],[2018,10.59]];
const d26L = [[1936.6,7.22],[1939,7.19],[1942,7.18],[1945.1,7.17],[1948,7.19],[1951,7.19],[1953.6,7.19],[1956,7.16],[1958,7.13],[1960.7,7.12],[1963,7.09],[1965,7.08],[1967.8,7.07],[1971,7.08],[1974,7.10],[1977.7,7.11],[1981,7.09],[1985,7.08],[1989,7.07],[1991.1,7.03],[1993,7.06],[1996.1,7.07],[1998.9,7.10],[2004,7.10],[2009,7.10],[2011,7.12],[2013,7.10],[2015.9,7.10]];
const d26X = [[1936.6,7.25],[1946.5,7.03],[1953.6,7.23],[2008.1,7.15],[2010.2,7.03],[2018,7.15],[2016.6,7.19],[1941,7.20],[1962,7.08],[1975,7.12],[1990,7.05]];
const d44L = [[1933.1,4.91],[1936,4.92],[1939,4.90],[1942.3,4.89],[1946,4.90],[1949.4,4.91],[1953,4.92],[1957,4.93],[1960.7,4.97],[1963.5,4.99],[1966,4.95],[1967.8,4.91],[1970,4.97],[1973.4,5.03],[1977,5.07],[1981.9,5.11],[1984,5.15],[1986.2,5.19],[1990.4,5.23],[1993.2,5.27],[1994.6,5.35],[1996,5.30],[1997.5,5.35],[2000,5.38],[2002,5.42],[2004.5,5.47],[2007,5.50],[2010.2,5.59],[2013,5.55],[2015,5.60],[2017.3,5.63]];
const d44X = [[1931.7,4.79],[1935.2,4.95],[1941.6,4.79],[1944.4,4.99],[1955,5.07],[1975.5,5.21],[1982.6,5.25],[1991.8,5.43],[1993.2,5.51],[1997.5,5.63],[1998.2,5.07],[2004.5,5.59],[2010.2,5.71],[2013,5.71],[2016.6,5.75],[2018,5.43],[2003.1,5.27]];
const d34L = [[1948.7,3.05],[1951,3.06],[1953.6,3.07],[1956,3.09],[1959,3.10],[1962,3.11],[1966,3.13],[1970.6,3.15],[1973,3.20],[1976.3,3.27],[1980,3.27],[1984,3.27],[1988,3.27],[1991.8,3.27],[1994,3.33],[1996.1,3.39],[1998.9,3.34],[2002,3.33],[2006,3.31],[2009,3.30],[2013,3.27],[2016.6,3.23]];
const d34X = [[1955.7,3.23],[1951.5,3.03],[1986.2,3.41],[1996.1,3.51],[2001.7,3.49],[1987.6,3.19],[2015.9,3.27],[1948,3.07],[1970,3.13],[1978,3.29],[2008,3.28]];
const d28L = [[1990.4,0.57],[1991.8,0.72],[1993,0.80],[1994.6,0.83],[1996.1,0.83],[1996.8,0.99],[1998.9,0.99],[2001.7,1.05],[2004.5,1.11],[2007.4,1.13],[2008.8,1.19],[2010.2,0.99]];
const d28X = [[1987.6,0.49],[1989.7,0.49],[1996.1,1.16],[1998.9,1.18],[2002.4,0.89],[2006.7,1.47],[2008.8,1.59],[2010.2,1.35],[2010.2,0.83],[2004.5,1.16],[2000,1.02],[2007.5,1.40]];
const linesD = [d25L,d26L,d44L,d34L,d28L];
const extraD = [d25X,d26X,d44X,d34X,d28X];

// ---------- bottom panels e-h : |Q*r| distributions ----------
const nLabels = ['n = 20','n = 18','n = 7','n = 5'];
const eRc = [0.41,0.32,0.27,0.25,0.24,0.22,0.21,0.20,0.19,0.18,0.17,0.16,0.15,0.14,0.13,0.12,0.11,0.10,0.09,0.08];
const eRf = [0.87,0.85,0.52,0.51,0.49,0.46,0.45,0.43,0.42,0.41,0.40,0.39,0.38,0.37,0.36,0.34,0.32,0.31,0.29,0.19];
const eComb = [0.86,0.83,0.51,0.48,0.46,0.44,0.42,0.40,0.38,0.37,0.35,0.34,0.33,0.31,0.30,0.27,0.25,0.23,0.20,0.18];
const fRc = [0.55,0.48,0.36,0.33,0.30,0.29,0.27,0.26,0.25,0.24,0.23,0.22,0.21,0.20,0.18,0.16,0.14,0.09];
const fRf = [0.97,0.76,0.74,0.71,0.63,0.61,0.59,0.57,0.55,0.54,0.52,0.51,0.50,0.49,0.47,0.45,0.44,0.26];
const fComb = [0.76,0.72,0.70,0.67,0.65,0.60,0.58,0.55,0.53,0.50,0.47,0.43,0.40,0.37,0.35,0.25,0.23,0.23];
const gRc = [0.90,0.725,0.575,0.477,0.438,0.389,0.266];
const gRf = [0.805,0.676,0.536,0.516,0.483,0.37,0.334];
const gComb = [1.067,0.978,0.79,0.579,0.526,0.497,0.465];
const hRc = [1.595,0.78,0.661,0.444,0.199];
const hRf = [0.911,0.762,0.688,0.542,0.19];
const hComb = [1.806,1.177,0.608,0.493,0.358];
// [group, whiskerLow, Q1, median, Q3, whiskerHigh]
const eBox = [[0,0.084,0.109,0.145,0.229,0.319],[1,0.287,0.364,0.416,0.461,0.524],[2,0.182,0.293,0.352,0.42,0.508]];
const fBox = [[0,0.09,0.178,0.24,0.295,0.364],[1,0.442,0.493,0.524,0.63,0.757],[2,0.227,0.40,0.534,0.653,0.759]];
const gBox = [[0,0.266,0.416,0.473,0.649,0.899],[1,0.334,0.424,0.514,0.604,0.805],[2,0.465,0.512,0.579,0.882,1.067]];
const hBox = [[0,0.199,0.444,0.661,0.774,0.774],[1,0.542,0.542,0.688,0.762,0.911],[2,0.358,0.493,0.608,1.177,1.806]];
const eFlier = [0.412];

// ================= build chart =================
const chart = echarts.init(document.getElementById('c'), null, {renderer: 'canvas', width: 1169, height: 1170});
const NUM = 'Liberation Sans';
const grids = [], xAxes = [], yAxes = [], series = [];
const topLeft = [117, 387, 656, 926], topW = [224, 223, 224, 223];
const botLeft = [142, 404, 666, 926], botW = [217, 218, 215, 215];
const white = {lineStyle: {color: '#ffffff', width: 1.2}};
for (let i = 0; i < 4; i++) {
  grids.push({left: topLeft[i], top: 76, width: topW[i], height: 602, show: true, backgroundColor: '#EAEAF2', borderWidth: 0, containLabel: false});
  xAxes.push({type: 'value', gridIndex: i, min: X0, max: X1, axisLine: {show: false},
    axisTick: {show: false, customValues: yearTicks},
    axisLabel: {customValues: yearTicks, formatter: v => String(Math.round(v)), rotate: 30, fontSize: 17, color: '#333', margin: 12, fontFamily: NUM},
    splitLine: white});
  yAxes.push({type: 'value', gridIndex: i, min: 0, max: 12.18, interval: 2, axisLine: {show: false}, axisTick: {show: false},
    axisLabel: {show: i === 0, formatter: v => (v === 12 ? '12' : ''), fontSize: 17, color: '#333', margin: 12, fontFamily: NUM},
    splitLine: white});
}
for (let i = 0; i < 4; i++) {
  grids.push({left: botLeft[i], top: 764, width: botW[i], height: 324, show: true, backgroundColor: '#EAEAF2', borderWidth: 0, containLabel: false});
  xAxes.push({type: 'value', gridIndex: 4 + i, min: -0.5, max: 2.5, minInterval: 1, maxInterval: 1, axisLine: {show: false},
    axisTick: {show: false}, axisLabel: {show: false}, splitLine: white});
  yAxes.push({type: 'value', gridIndex: 4 + i, min: 0, max: 1.9, interval: 0.25, axisLine: {show: false}, axisTick: {show: false},
    axisLabel: {show: i === 0, formatter: v => (v > 1.8 ? '' : v.toFixed(2)), fontSize: 14.5, color: '#333', margin: 12, fontFamily: NUM},
    splitLine: white});
}

const dotStyle = {color: 'rgba(250,150,40,0.62)', borderColor: 'rgba(242,130,16,0.92)', borderWidth: 1};
function dots(idx, data) {
  return {type: 'scatter', xAxisIndex: idx, yAxisIndex: idx, data: data, symbolSize: 8, itemStyle: dotStyle, z: 2, silent: true};
}
function labelSeries(idx, gages, vals) {
  return {type: 'scatter', xAxisIndex: idx, yAxisIndex: idx, symbolSize: 1, itemStyle: {color: 'rgba(0,0,0,0)'}, clip: false, silent: true,
    data: gages.map((g, k) => ({name: g, value: [X1, vals[k]]})),
    label: {show: true, position: 'right', distance: 2, formatter: '{b}', fontSize: 15, color: '#222', fontFamily: NUM}, z: 5};
}
// panel a
series.push(dots(0, [].concat(...ptsA)));
trendA.forEach(t => series.push({type: 'line', xAxisIndex: 0, yAxisIndex: 0, data: [[t[0], t[1]], [t[2], t[3]]], symbol: 'none', silent: true,
  lineStyle: {color: t[4] ? '#000' : '#8a8a8a', width: t[4] ? 3.2 : 2.6}, z: 3}));
series.push(labelSeries(0, gagesA, labelA));
// 0.50 scale bar (data units)
series.push({type: 'line', xAxisIndex: 0, yAxisIndex: 0, data: [[1937.6, 11.52], [1937.6, 12.02]], symbol: 'none', silent: true,
  lineStyle: {color: '#8a8a8a', width: 6, cap: 'butt'}, z: 4});
// panels b, c, d
[[linesB, extraB, gagesB, labelB], [linesC, extraC, gagesC, labelC], [linesD, extraD, gagesD, labelD]].forEach((p, k) => {
  const idx = k + 1;
  series.push(dots(idx, [].concat(...p[0], ...p[1])));
  p[0].forEach(L => series.push({type: 'line', xAxisIndex: idx, yAxisIndex: idx, data: L, symbol: 'none', silent: true,
    lineStyle: {color: '#2B1E10', width: 2.7, opacity: 0.88}, z: 3}));
  series.push(labelSeries(idx, p[2], p[3]));
});

// bottom panels
const boxFill = ['#F58A1F', '#6A8FCF', '#C4C4C4'];
function renderBox(params, api) {
  const x = api.value(0);
  const v = [1, 2, 3, 4, 5].map(d => api.value(d));
  const p = v.map(val => api.coord([x, val]));
  const band = api.size([1, 0])[0];
  const hw = band * 0.305, cw = band * 0.16;
  const st = {stroke: '#222', lineWidth: 1.6};
  const ch = [];
  if (v[0] < v[1]) {
    ch.push({type: 'line', shape: {x1: p[0][0], y1: p[0][1], x2: p[1][0], y2: p[1][1]}, style: st});
    ch.push({type: 'line', shape: {x1: p[0][0] - cw, y1: p[0][1], x2: p[0][0] + cw, y2: p[0][1]}, style: st});
  }
  if (v[4] > v[3]) {
    ch.push({type: 'line', shape: {x1: p[3][0], y1: p[3][1], x2: p[4][0], y2: p[4][1]}, style: st});
    ch.push({type: 'line', shape: {x1: p[4][0] - cw, y1: p[4][1], x2: p[4][0] + cw, y2: p[4][1]}, style: st});
  }
  ch.push({type: 'rect', shape: {x: p[3][0] - hw, y: p[3][1], width: 2 * hw, height: p[1][1] - p[3][1]}, style: {fill: boxFill[x], stroke: '#222', lineWidth: 1.6}});
  ch.push({type: 'line', shape: {x1: p[2][0] - hw, y1: p[2][1], x2: p[2][0] + hw, y2: p[2][1]}, style: st});
  return {type: 'group', children: ch};
}
const ptColors = [
  {color: '#F5891F', borderColor: '#A8521C', borderWidth: 1.2},
  {color: '#6A8FD0', borderColor: '#3A3C96', borderWidth: 1.2},
  {color: '#C8C8C8', borderColor: '#7C7C7C', borderWidth: 1.2}];
[[eBox, eRc, eRf, eComb], [fBox, fRc, fRf, fComb], [gBox, gRc, gRf, gComb], [hBox, hRc, hRf, hComb]].forEach((p, k) => {
  const idx = 4 + k;
  series.push({type: 'custom', xAxisIndex: idx, yAxisIndex: idx, data: p[0], renderItem: renderBox, encode: {x: 0, y: [1, 2, 3, 4, 5]}, z: 2, silent: true, clip: false});
  [p[1], p[2], p[3]].forEach((vals, j) => {
    const st = Object.assign({}, ptColors[j]);
    if (k === 0 && j === 0) st.opacity = 0.6;
    series.push({type: 'scatter', xAxisIndex: idx, yAxisIndex: idx, data: vals.map(v => [j, v]), symbolSize: 11, itemStyle: st, z: 4, silent: true});
  });
});
series.push({type: 'scatter', xAxisIndex: 4, yAxisIndex: 4, data: eFlier.map(v => [0, v]), symbolSize: 11,
  itemStyle: {color: 'rgba(234,234,242,1)', borderColor: '#4a3020', borderWidth: 1.5}, z: 5, silent: true});

// ---------- text & decorations ----------
function T(text, x, y, font, fill, extra) {
  return Object.assign({type: 'text', x: x, y: y, silent: true, style: {text: text, font: font, fill: fill, align: 'center', verticalAlign: 'middle'}}, extra || {});
}
const G = [];
const badges = [['a', 142, 30, '#3A88CB'], ['b', 389, 30, '#477C3B'], ['c', 656, 30, '#E2932F'], ['d', 937, 28, '#6B5327'],
  ['e', 143, 757, '#3A88CB'], ['f', 399, 757, '#477C3B'], ['g', 667, 757, '#E2932F'], ['h', 929, 754, '#6B5327']];
badges.forEach(b => {
  G.push({type: 'circle', shape: {cx: b[1], cy: b[2], r: 24}, style: {fill: b[3]}, silent: true});
  G.push(T(b[0], b[1] + 1, b[2] - 1, 'italic bold 31px Lato', '#ffffff'));
});
const heads = [['MONOTONIC', 'CHANGES', 243, '#3A8AD0'], ['MULTI-DECADAL', 'OSCILLATIONS', 512, '#4B8A2B'],
  ['EXTREME', 'SEDIMENT-SUPPLY', 777, '#EC9630'], ['REGULATED', 'RESPONSE', 1048, '#6B5326']];
heads.forEach(h => {
  G.push(T(h[0], h[2], 22, 'italic bold 23px Lato', h[3]));
  G.push(T(h[1], h[2], 52, 'italic bold 23px Lato', h[3]));
});
G.push(T('Gage #:', 354, 65, '19px "Open Sans"', '#111'));
G.push(T('0.50', 146, 119, 'italic bold 21px "Liberation Sans"', '#8a8a8a'));
G.push(T('conveyance', 58, 243, '17px "Open Sans"', '#111'));
G.push(T('loss', 58, 267, '17px "Open Sans"', '#111'));
G.push(T('conveyance', 58, 524, '17px "Open Sans"', '#111'));
G.push(T('gain', 58, 548, '17px "Open Sans"', '#111'));
G.push(T('+', 56, 298, 'bold 32px "Liberation Sans"', '#000'));
G.push(T('-', 56, 495, 'bold 34px "Liberation Sans"', '#000'));
G.push({type: 'line', shape: {x1: 56, y1: 362, x2: 56, y2: 336}, style: {stroke: '#000', lineWidth: 3}, silent: true});
G.push({type: 'polygon', shape: {points: [[49, 341], [63, 341], [56, 321]]}, style: {fill: '#000'}, silent: true});
G.push({type: 'line', shape: {x1: 56, y1: 440, x2: 56, y2: 464}, style: {stroke: '#000', lineWidth: 3}, silent: true});
G.push({type: 'polygon', shape: {points: [[49, 459], [63, 459], [56, 479]]}, style: {fill: '#000'}, silent: true});
G.push({type: 'group', x: 60, y: 382, rotation: Math.PI / 2, silent: true, children: [
  T('Q', -10, 0, 'italic 32px "Open Sans"', '#111'),
  T('*', 7, -12, '22px "Open Sans"', '#111'),
  T('rc', 16, 10, 'italic 22px "Open Sans"', '#111')]});
G.push({type: 'group', x: 62, y: 935, rotation: Math.PI / 2, silent: true, children: [
  {type: 'line', shape: {x1: -30, y1: -20, x2: -30, y2: 22}, style: {stroke: '#111', lineWidth: 3}},
  T('Q', -8, 2, '36px "Open Sans"', '#111'),
  T('*', 11, -12, '24px "Open Sans"', '#111'),
  T('r', 15, 12, 'italic 24px "Open Sans"', '#111'),
  {type: 'line', shape: {x1: 30, y1: -20, x2: 30, y2: 22}, style: {stroke: '#111', lineWidth: 3}}]});
G.push(T('date', 611, 738, 'italic 19px "Open Sans"', '#111'));
const nX = [250, 513, 774, 1033];
nX.forEach((x, k) => G.push(T(nLabels[k], x, 799, '17px "Liberation Sans"', '#333')));
// legend
const leg = [[372, '#F7931E', 407, 427, 448, 454, 'rc', 473, '#F28C1E'],
  [585, '#6A8FCF', 621, 641, 662, 667, 'rf', 688, '#2F7EC1'],
  [797, '#C8C8C8', 834, 855, 874, 908, 'comb', 955, '#6E6E6E']];
leg.forEach(l => {
  G.push({type: 'circle', shape: {cx: l[0], cy: 1137, r: 10}, style: {fill: l[1], stroke: '#333', lineWidth: 1}, silent: true});
  G.push({type: 'line', shape: {x1: l[2], y1: 1112, x2: l[2], y2: 1167}, style: {stroke: l[8], lineWidth: 2.5}, silent: true});
  G.push(T('Q', l[3], 1137, 'italic bold 32px "Open Sans"', l[8]));
  G.push(T('*', l[4], 1121, 'bold 24px "Open Sans"', l[8]));
  G.push(T(l[6], l[5], 1150, 'italic bold 26px "Open Sans"', l[8]));
  G.push({type: 'line', shape: {x1: l[7], y1: 1112, x2: l[7], y2: 1167}, style: {stroke: l[8], lineWidth: 2.5}, silent: true});
});
G.forEach(g => { g.z = 100; });

chart.setOption({
  animation: false,
  backgroundColor: '#ffffff',
  textStyle: {fontFamily: NUM},
  grid: grids, xAxis: xAxes, yAxis: yAxes, series: series, graphic: G
});
</script></body></html>
